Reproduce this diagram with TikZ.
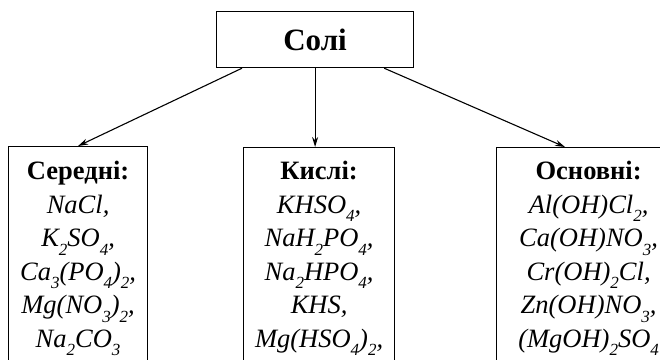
\documentclass[tikz,border=0pt]{standalone}
\usepackage{fontspec}
\setmainfont{Liberation Serif}
\usetikzlibrary{arrows.meta,calc}
\newcommand\sbs[1]{\raisebox{-0.33em}{\fontsize{17}{17}\selectfont #1}}
\begin{document}
\begin{tikzpicture}[x=1pt,y=-1pt,
  box/.style={draw, line width=1.2pt, inner sep=0pt},
  arr/.style={line width=1.1pt, -{Stealth[length=10pt,width=6pt]}},
  lbl/.style={anchor=north, align=center, inner sep=0pt, font=\fontsize{26.5}{33.5}\selectfont}]
\useasboundingbox (0,0) rectangle (660,359);
\clip (0,0) rectangle (660,359);
\node[box, anchor=north west, minimum width=197pt, minimum height=56pt,
      font=\fontsize{31}{31}\selectfont\bfseries] (soli) at (216,11) {Солі};
\node[box, anchor=north west, minimum width=139pt, minimum height=240pt] (b1) at (8,146) {};
\node[box, anchor=north west, minimum width=151pt, minimum height=240pt] (b2) at (243,147) {};
\node[box, anchor=north west, minimum width=184pt, minimum height=240pt] (b3) at (496,147) {};
\node[lbl] (t1) at ([yshift=-15pt]b1.north) {\textbf{Середні:}\\
  \textit{NaCl,}\\
  \textit{K\sbs{2}SO\sbs{4},}\\
  \textit{Ca\sbs{3}(PO\sbs{4})\sbs{2},}\\
  \textit{Mg(NO\sbs{3})\sbs{2},}\\
  \textit{Na\sbs{2}CO\sbs{3}}};
\node[lbl] (t2) at ([yshift=-14pt]b2.north) {\textbf{Кислі:}\\
  \textit{KHSO\sbs{4},}\\
  \textit{NaH\sbs{2}PO\sbs{4},}\\
  \textit{Na\sbs{2}HPO\sbs{4},}\\
  \textit{KHS,}\\
  \textit{Mg(HSO\sbs{4})\sbs{2},}};
\node[lbl] (t3) at ([yshift=-14pt]b3.north) {\textbf{Основні:}\\
  \textit{Al(OH)Cl\sbs{2},}\\
  \textit{Ca(OH)NO\sbs{3},}\\
  \textit{Cr(OH)\sbs{2}Cl,}\\
  \textit{Zn(OH)NO\sbs{3},}\\
  \textit{(MgOH)\sbs{2}SO\sbs{4}}};
\draw[arr] ([xshift=26pt]soli.south west) -- (b1.north);
\draw[arr] (soli.south) -- (soli.south |- b2.north);
\draw[arr] ([xshift=-30pt]soli.south east) -- ([xshift=69pt]b3.north west);
\end{tikzpicture}
\end{document}
